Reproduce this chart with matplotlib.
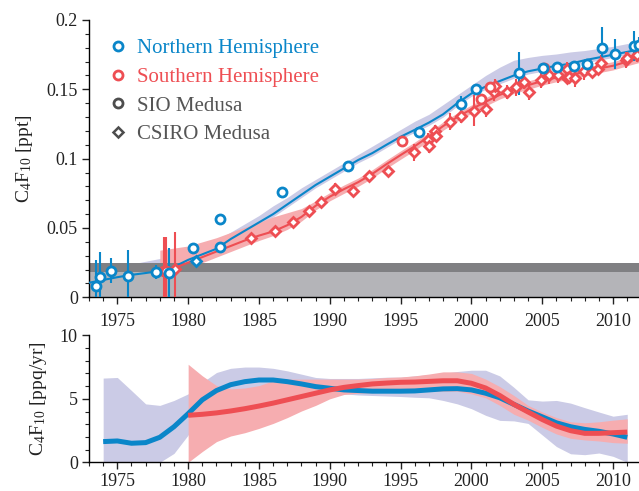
import matplotlib
matplotlib.use("Agg")
import matplotlib.pyplot as plt
from matplotlib.lines import Line2D
import numpy as np

plt.rcParams['font.family'] = ['Liberation Serif', 'DejaVu Serif']
plt.rcParams['mathtext.fontset'] = 'custom'
plt.rcParams['mathtext.rm'] = 'Liberation Serif'
plt.rcParams['mathtext.it'] = 'Liberation Serif'

BLUE = '#0a86c9'
RED = '#ee4e53'
LAV = '#cbcbe6'
PINK = '#f6adb0'
DGREY = '#808083'
LGREY = '#b4b4b8'
TXTGREY = '#555555'

# ---------------- top panel: mixing ratios (ppt) ----------------
nh_sio_year = [1973.52, 1973.75, 1974.53, 1975.78, 1977.75, 1978.64, 1980.34, 1982.25, 1982.22,
               1986.65, 1991.29, 1996.3, 1999.27, 2000.3, 2003.34, 2005.06, 2006.07, 2007.23,
               2008.17, 2009.2, 2010.17, 2011.46, 2011.8]
nh_sio_val = [0.0084, 0.0149, 0.0192, 0.0156, 0.0185, 0.0173, 0.0358, 0.0563, 0.036,
              0.0757, 0.0949, 0.1192, 0.1394, 0.150, 0.1615, 0.1656, 0.1661, 0.1668,
              0.168, 0.1798, 0.1753, 0.1813, 0.182]
nh_sio_err = [0.0186, 0.018, 0.009, 0.0185, 0.005, 0.018, 0.002, 0.0, 0.0,
              0.0, 0.0, 0.003, 0.006, 0.0, 0.0155, 0.0, 0.0, 0.0,
              0.0, 0.015, 0.011, 0.011, 0.006]

nh_csiro_year = [1980.53]
nh_csiro_val = [0.0262]
nh_csiro_err = [0.003]

sh_sio_year = [1978.32, 1978.46, 1995.08, 2000.68, 2001.34, 2005.1]
sh_sio_val = [0.0192, 0.0192, 0.113, 0.1428, 0.1515, 0.1656]
sh_sio_err = [0.0245, 0.0245, 0.003, 0.003, 0.003, 0.003]

sh_csiro_year = [1979.1, 1984.41, 1986.1, 1987.4, 1988.5, 1989.4, 1990.35, 1991.67, 1992.77,
                 1994.09, 1995.95, 1996.94, 1996.98, 1997.46, 1997.48, 1998.49, 1999.27,
                 2000.16, 2001.0, 2001.57, 2001.69, 2002.49, 2003.18, 2003.74, 2004.07,
                 2004.92, 2005.48, 2006.1, 2006.78, 2006.75, 2006.89, 2007.31, 2007.93,
                 2008.54, 2008.97, 2009.15, 2010.9, 2010.99, 2011.7]
sh_csiro_val = [0.0204, 0.043, 0.048, 0.0545, 0.0622, 0.0685, 0.0781, 0.0767, 0.0877,
                0.0911, 0.1045, 0.1134, 0.1094, 0.1202, 0.1163, 0.1267, 0.1308,
                0.1346, 0.1358, 0.1479, 0.1524, 0.1481, 0.1515, 0.1551, 0.1481,
                0.1567, 0.1601, 0.1603, 0.1644, 0.1584, 0.1587, 0.1584, 0.163,
                0.1623, 0.1644, 0.1688, 0.1711, 0.1724, 0.1745]
sh_csiro_err = [0.027, 0.002, 0.002, 0.002, 0.003, 0.004, 0.004, 0.002, 0.003,
                0.002, 0.006, 0.005, 0.005, 0.004, 0.004, 0.006, 0.005,
                0.011, 0.006, 0.006, 0.005, 0.005, 0.006, 0.005, 0.006,
                0.006, 0.006, 0.006, 0.005, 0.004, 0.004, 0.007, 0.006,
                0.004, 0.004, 0.006, 0.006, 0.004, 0.005]

# model fits (top)
nh_fit_year = [1973, 1974, 1975, 1976, 1977, 1978, 1979, 1980, 1981, 1982, 1983, 1984, 1985,
               1986, 1987, 1988, 1989, 1990, 1991, 1992, 1993, 1994, 1995, 1996, 1997, 1998,
               1999, 2000, 2001, 2002, 2003, 2004, 2005, 2006, 2007, 2008, 2009, 2010, 2011, 2011.9]
nh_fit_val = [0.0105, 0.0125, 0.0145, 0.0162, 0.0175, 0.019, 0.022, 0.027, 0.031, 0.035, 0.042,
              0.048, 0.054, 0.060, 0.067, 0.074, 0.081, 0.087, 0.093, 0.099, 0.104, 0.110,
              0.1158, 0.1208, 0.126, 0.132, 0.140, 0.147, 0.152, 0.156, 0.160, 0.163, 0.165,
              0.167, 0.1685, 0.171, 0.173, 0.175, 0.177, 0.179]
nh_band_hi = [0.012, 0.015, 0.018, 0.024, 0.026, 0.028, 0.030, 0.033, 0.037, 0.041, 0.047,
              0.053, 0.059, 0.066, 0.072, 0.079, 0.085, 0.091, 0.097, 0.103, 0.109, 0.115,
              0.121, 0.127, 0.132, 0.139, 0.146, 0.153, 0.160, 0.166, 0.171, 0.173, 0.1745,
              0.1755, 0.177, 0.178, 0.1795, 0.181, 0.183, 0.1845]
nh_band_lo = [0.009, 0.010, 0.012, 0.013, 0.015, 0.017, 0.020, 0.025, 0.029, 0.033, 0.040,
              0.046, 0.052, 0.058, 0.065, 0.072, 0.079, 0.085, 0.091, 0.097, 0.102, 0.108,
              0.114, 0.119, 0.124, 0.130, 0.138, 0.145, 0.150, 0.154, 0.158, 0.161, 0.163,
              0.165, 0.1665, 0.169, 0.171, 0.173, 0.175, 0.177]

sh_fit_year = [1978, 1979, 1980, 1981, 1982, 1983, 1984, 1985, 1986, 1987, 1988, 1989, 1990,
               1991, 1992, 1993, 1994, 1995, 1996, 1997, 1998, 1999, 2000, 2001, 2002, 2003,
               2004, 2005, 2006, 2007, 2008, 2009, 2010, 2011, 2011.9]
sh_fit_val = [0.0185, 0.021, 0.025, 0.029, 0.033, 0.037, 0.041, 0.0445, 0.0475, 0.052, 0.058,
              0.066, 0.0726, 0.078, 0.083, 0.089, 0.096, 0.1026, 0.109, 0.116, 0.1235, 0.130,
              0.1357, 0.141, 0.146, 0.150, 0.153, 0.156, 0.1585, 0.1605, 0.1625, 0.165, 0.167,
              0.170, 0.1725]
sh_band_hi = [0.034, 0.0355, 0.037, 0.040, 0.043, 0.0468, 0.0505, 0.054, 0.058, 0.061, 0.064,
              0.0695, 0.0755, 0.081, 0.086, 0.092, 0.099, 0.1056, 0.112, 0.119, 0.1265, 0.133,
              0.1387, 0.144, 0.149, 0.153, 0.156, 0.159, 0.1615, 0.1635, 0.1655, 0.168, 0.170,
              0.173, 0.1755]
sh_band_lo = [0.012, 0.015, 0.020, 0.025, 0.029, 0.033, 0.037, 0.041, 0.0445, 0.049, 0.055,
              0.063, 0.0696, 0.075, 0.080, 0.086, 0.093, 0.0996, 0.106, 0.113, 0.1205, 0.127,
              0.1327, 0.138, 0.143, 0.147, 0.150, 0.153, 0.1555, 0.1575, 0.1595, 0.162, 0.164,
              0.167, 0.1695]

# baseline (detection limit) bands
base_lo = [0.0, 0.0185]
base_hi = [0.0185, 0.025]

# ---------------- bottom panel: growth rates (ppq/yr) ----------------
rate_nh_year = [1974, 1975, 1976, 1977, 1978, 1979, 1980, 1981, 1982, 1983, 1984, 1985, 1986,
                1987, 1988, 1989, 1990, 1991, 1992, 1993, 1994, 1995, 1996, 1997, 1998, 1999,
                2000, 2001, 2002, 2003, 2004, 2005, 2006, 2007, 2008, 2009, 2010, 2011]
rate_nh_val = [1.63, 1.68, 1.5, 1.55, 1.97, 2.8, 3.83, 4.92, 5.65, 6.11, 6.35, 6.48, 6.48,
               6.35, 6.17, 5.96, 5.83, 5.7, 5.65, 5.6, 5.6, 5.6, 5.62, 5.7, 5.78, 5.8,
               5.7, 5.44, 5.08, 4.56, 4.04, 3.58, 3.11, 2.8, 2.59, 2.44, 2.23, 1.97]
rate_nh_hi = [6.63, 6.68, 5.65, 4.6, 4.48, 4.87, 5.39, 6.3, 7.07, 7.4, 7.5, 7.5, 7.4,
              7.2, 6.94, 6.68, 6.6, 6.6, 6.6, 6.65, 6.7, 6.7, 6.8, 6.9, 7.0, 7.15,
              7.25, 7.25, 6.8, 5.9, 4.92, 4.82, 4.87, 4.66, 4.3, 3.96, 3.63, 3.78]
rate_nh_lo = [0.0, 0.0, 0.0, 0.0, 0.0, 0.7, 2.15, 4.2, 4.9, 5.3, 5.5, 5.6, 5.6,
              5.5, 5.4, 5.4, 5.4, 5.39, 5.3, 5.26, 5.22, 5.18, 5.12, 5.08, 4.87, 4.6,
              4.22, 3.7, 3.3, 3.26, 3.06, 2.15, 1.24, 0.67, 0.6, 0.73, 0.47, 0.0]

rate_sh_year = [1980, 1981, 1982, 1983, 1984, 1985, 1986, 1987, 1988, 1989, 1990, 1991, 1992,
                1993, 1994, 1995, 1996, 1997, 1998, 1999, 2000, 2001, 2002, 2003, 2004, 2005,
                2006, 2007, 2008, 2009, 2010, 2011]
rate_sh_val = [3.7, 3.78, 3.89, 4.04, 4.22, 4.43, 4.66, 4.92, 5.18, 5.44, 5.7, 5.9, 6.04,
               6.17, 6.24, 6.3, 6.32, 6.37, 6.42, 6.42, 6.22, 5.85, 5.26, 4.56, 3.96, 3.37,
               2.85, 2.49, 2.28, 2.28, 2.33, 2.38]
rate_sh_hi = [7.72, 6.81, 6.04, 5.78, 5.85, 6.04, 6.42, 6.55, 6.55, 6.55, 6.55, 6.55, 6.55,
              6.6, 6.68, 6.72, 6.81, 6.95, 7.12, 7.12, 7.0, 6.55, 5.96, 5.26, 4.48, 3.96,
              3.52, 3.19, 3.11, 3.19, 3.32, 3.42]
rate_sh_lo = [0.0, 0.85, 1.63, 2.07, 2.33, 2.67, 3.06, 3.52, 4.04, 4.48, 5.0, 5.34, 5.44,
              5.48, 5.52, 5.56, 5.6, 5.6, 5.6, 5.6, 5.39, 5.08, 4.48, 3.78, 3.32, 2.75,
              2.23, 1.89, 1.76, 1.68, 1.55, 1.5]

legend_labels = ['Northern Hemisphere', 'Southern Hemisphere', 'SIO Medusa', 'CSIRO Medusa']

# ---------------- figure ----------------
W, H = 639, 491
fig = plt.figure(figsize=(W / 100, H / 100), dpi=100)
left = 89 / W
ax1 = fig.add_axes([left, 1 - 297.3 / H, 1 - left, (297.3 - 20) / H])
ax2 = fig.add_axes([left, 1 - 462.3 / H, 1 - left, (462.3 - 335.3) / H])

XL = (1973, 2011.83)
TICKFS = 13

for ax in (ax1, ax2):
    ax.set_xlim(*XL)
    for s in ('top', 'right'):
        ax.spines[s].set_visible(False)
    ax.spines['left'].set_linewidth(1.0)
    ax.spines['bottom'].set_linewidth(1.0)
    ax.set_xticks([1975, 1980, 1985, 1990, 1995, 2000, 2005, 2010])
    ax.set_xticks(np.arange(1973, 2012), minor=True)
    ax.tick_params(axis='both', which='major', direction='out', length=5, width=1.0,
                   labelsize=TICKFS, colors='#222222', pad=6)
    ax.tick_params(axis='both', which='minor', direction='out', length=3, width=0.8,
                   colors='#222222')
ax2.tick_params(axis='x', which='major', pad=3)

# top panel
ax1.set_ylim(0, 0.2)
ax1.set_yticks([0, 0.05, 0.1, 0.15, 0.2])
ax1.set_yticklabels(['0', '0.05', '0.1', '0.15', '0.2'])
ax1.set_yticks(np.arange(0, 0.201, 0.01), minor=True)
ax1.tick_params(axis='y', which='major', pad=3)

ax1.fill_between(nh_fit_year, nh_band_lo, nh_band_hi, color=LAV, lw=0, zorder=1)
ax1.fill_between(sh_fit_year, sh_band_lo, sh_band_hi, color=PINK, lw=0, zorder=1.5)
ax1.axhspan(base_lo[0], base_hi[0], color=LGREY, lw=0, zorder=2)
ax1.axhspan(base_lo[1], base_hi[1], color=DGREY, lw=0, zorder=2)
ax1.plot(nh_fit_year, nh_fit_val, color=BLUE, lw=1.5, zorder=3)
ax1.plot(sh_fit_year, sh_fit_val, color=RED, lw=1.5, zorder=3)

ekw = dict(linestyle='none', elinewidth=1.5, capsize=0, zorder=4, markerfacecolor='white',
           markeredgewidth=2.0)
ax1.errorbar(sh_csiro_year, sh_csiro_val, yerr=sh_csiro_err, fmt='D', ms=5.5,
             color=RED, ecolor=RED, **ekw)
ax1.errorbar(sh_sio_year, sh_sio_val, yerr=sh_sio_err, fmt='o', ms=6.5,
             color=RED, ecolor=RED, **ekw)
ax1.errorbar(nh_csiro_year, nh_csiro_val, yerr=nh_csiro_err, fmt='D', ms=5.5,
             color=BLUE, ecolor=BLUE, **ekw)
ax1.errorbar(nh_sio_year, nh_sio_val, yerr=nh_sio_err, fmt='o', ms=6.5,
             color=BLUE, ecolor=BLUE, **ekw)

ax1.set_ylabel(r'C$_4$F$_{10}$ [ppt]', fontsize=14, color='#222222', labelpad=8)

handles = [
    Line2D([], [], marker='o', ls='none', ms=6.5, mfc='white', mec=BLUE, mew=2.0),
    Line2D([], [], marker='o', ls='none', ms=6.5, mfc='white', mec=RED, mew=2.0),
    Line2D([], [], marker='o', ls='none', ms=6.5, mfc='white', mec='#4d4d4d', mew=2.0),
    Line2D([], [], marker='D', ls='none', ms=5.5, mfc='white', mec='#4d4d4d', mew=1.8),
]
leg = ax1.legend(handles, legend_labels, loc='upper left', bbox_to_anchor=(0.025, 0.962),
                 frameon=False, fontsize=15, handlelength=0.7, handletextpad=0.55,
                 labelspacing=0.43, borderaxespad=0.0)
for t, c in zip(leg.get_texts(), [BLUE, RED, TXTGREY, TXTGREY]):
    t.set_color(c)

# bottom panel
ax2.set_ylim(0, 10)
ax2.set_yticks([0, 5, 10])
ax2.set_yticks(np.arange(0, 11, 1), minor=True)
ax2.tick_params(axis='y', which='major', pad=3)
ax2.fill_between(rate_nh_year, rate_nh_lo, rate_nh_hi, color=LAV, lw=0, zorder=1)
ax2.fill_between(rate_sh_year, rate_sh_lo, rate_sh_hi, color=PINK, lw=0, zorder=1.5)
ax2.plot(rate_nh_year, rate_nh_val, color=BLUE, lw=3.6, zorder=3, solid_capstyle='butt')
ax2.plot(rate_sh_year, rate_sh_val, color=RED, lw=3.6, zorder=3.5, solid_capstyle='butt')
ax2.set_ylabel(r'C$_4$F$_{10}$ [ppq/yr]', fontsize=14, color='#222222', labelpad=8)

fig.align_ylabels([ax1, ax2])
fig.savefig('out.png', dpi=100)
